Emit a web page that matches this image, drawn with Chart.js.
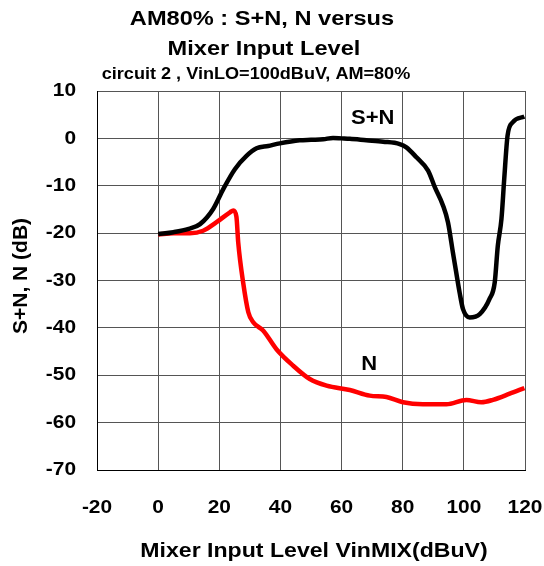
<!DOCTYPE html>
<html><head><meta charset="utf-8">
<script src="https://cdn.jsdelivr.net/npm/chart.js@4.4.0/dist/chart.umd.min.js"></script>
<style>html,body{margin:0;padding:0;background:#fff}#wrap{width:544px;height:566px}</style>
</head><body><div id="wrap"><canvas id="c" width="544" height="566"></canvas></div>
<script>
const titleLines = ["AM80% : S+N, N versus", "Mixer Input Level"];
const subtitleText = "circuit 2 , VinLO=100dBuV, AM=80%";
const xTitle = "Mixer Input Level VinMIX(dBuV)";
const yTitle = "S+N, N (dB)";
const seriesNames = ["S+N", "N"];
const labelPos = [[70.2, 4.1], [69, -47.8]];

const snX = [0, 5, 10, 13.7, 18, 21.3, 25.1, 28.9, 32.2, 36, 39.8, 46.3, 50, 54, 57.2, 60, 62.7, 68.1, 73.6, 79, 81.2, 84.5, 88.3, 90.5, 93.2, 94.8, 96.4, 97.5, 98.6, 99.7, 101.9, 105.2, 108.4, 110.1, 111.1, 112.3, 113.2, 114.3, 116, 119.8];
const snY = [-20.2, -19.8, -19.1, -18.1, -14.9, -10.7, -6.5, -3.7, -2.1, -1.6, -1.05, -0.4, -0.3, -0.2, 0.1, 0, -0.1, -0.4, -0.7, -1.2, -1.9, -4, -6.8, -10.3, -14.2, -17.7, -24, -28.3, -32.5, -36, -37.8, -37.1, -33.9, -30.4, -22.7, -17, -8.6, 0.6, 3.4, 4.6];

const nX = [0, 5, 10.4, 14.7, 19.1, 23.5, 24.6, 25.6, 26.2, 27.8, 29.5, 31.1, 34.4, 38.7, 44.2, 49.6, 55.1, 62.7, 69.2, 74.7, 80.1, 86.6, 94.3, 100.8, 105.7, 109.5, 115, 119.8];
const nY = [-20.3, -20, -20, -19.5, -17.7, -15.6, -15.2, -16.5, -22, -30.4, -36.7, -38.8, -40.6, -44.5, -48, -50.8, -52.2, -53.1, -54.3, -54.6, -55.7, -56.1, -56.1, -55.2, -55.7, -55.2, -53.9, -52.7];

const FONT = "'Liberation Sans', Arial, sans-serif";
const toPts = (xs, ys) => xs.map((x, i) => ({x: x, y: ys[i]}));

function txt(ctx, s, x, y, size, sx, align, rot) {
  ctx.save();
  ctx.translate(x, y);
  if (rot) ctx.rotate(rot);
  ctx.scale(sx, 1);
  ctx.font = "bold " + size + "px " + FONT;
  ctx.textAlign = align || 'center';
  ctx.textBaseline = 'middle';
  ctx.fillStyle = '#000';
  ctx.fillText(s, 0, 0);
  ctx.restore();
}

const textPlugin = {
  id: 'texts',
  afterDraw(chart) {
    const ctx = chart.ctx;
    const xs = chart.scales.x, ys = chart.scales.y;
    txt(ctx, titleLines[0], 262, 19, 20, 1.18);
    txt(ctx, titleLines[1], 264, 49, 20, 1.18);
    txt(ctx, subtitleText, 256, 75, 16, 1.13);
    ys.ticks.forEach(t => txt(ctx, String(t.value), 76, ys.getPixelForValue(t.value), 19, 1.1, 'right'));
    xs.ticks.forEach(t => txt(ctx, String(t.value), xs.getPixelForValue(t.value), 508, 19, 1.1, 'center'));
    txt(ctx, xTitle, (chart.chartArea.left + chart.chartArea.right) / 2 + 3, 551, 21, 1.1);
    txt(ctx, yTitle, 21, 276, 21, 1.0, 'center', -Math.PI / 2);
    seriesNames.forEach((n, i) => {
      txt(ctx, n, xs.getPixelForValue(labelPos[i][0]), ys.getPixelForValue(labelPos[i][1]), 20, 1.1);
    });
  }
};

new Chart(document.getElementById('c'), {
  type: 'line',
  data: {
    datasets: [
      {label: seriesNames[0], data: toPts(snX, snY), borderColor: '#000', borderWidth: 4.5, pointRadius: 0, cubicInterpolationMode: 'monotone', fill: false},
      {label: seriesNames[1], data: toPts(nX, nY), borderColor: '#ff0000', borderWidth: 4.5, pointRadius: 0, cubicInterpolationMode: 'monotone', fill: false}
    ]
  },
  options: {
    responsive: false,
    animation: false,
    devicePixelRatio: 1,
    layout: {padding: {top: 91, left: 8, right: 19, bottom: 0}},
    plugins: {legend: {display: false}, tooltip: {enabled: false}, title: {display: false}},
    scales: {
      x: {
        type: 'linear', min: -20, max: 120,
        ticks: {stepSize: 20, display: false},
        grid: {color: '#555', lineWidth: 1, drawTicks: false},
        border: {color: '#000', width: 1},
        afterFit(s) { s.height = 96; }
      },
      y: {
        type: 'linear', min: -70, max: 10,
        ticks: {stepSize: 10, display: false},
        grid: {color: '#555', lineWidth: 1, drawTicks: false},
        border: {color: '#000', width: 1},
        afterFit(s) { s.width = 89; }
      }
    }
  },
  plugins: [textPlugin]
});
</script>
</body></html>
